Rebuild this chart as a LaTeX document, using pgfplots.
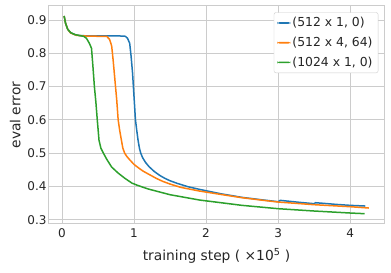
\documentclass[border=0pt]{standalone}
\usepackage{pgfplots}
\pgfplotsset{compat=1.18}
\usepackage{fontspec}
\setmainfont{DejaVu Sans}
\definecolor{tabblue}{HTML}{1F77B4}
\definecolor{taborange}{HTML}{FF7F0E}
\definecolor{tabgreen}{HTML}{2CA02C}
\definecolor{gridc}{HTML}{CCCCCC}
\definecolor{txt}{HTML}{262626}
\begin{document}
\begin{tikzpicture}
\path[use as bounding box] (-49pt,-49pt) rectangle (342pt,224pt);
\begin{axis}[
  at={(0pt,0pt)}, anchor=south west,
  scale only axis, width=335pt, height=218pt,
  xmin=-0.18, xmax=4.47, ymin=0.287, ymax=0.942,
  xtick={0,1,2,3,4}, ytick={0.3,0.4,0.5,0.6,0.7,0.8,0.9},
  yticklabel style={/pgf/number format/fixed, /pgf/number format/fixed zerofill,
    /pgf/number format/precision=1, xshift=1pt},
  /pgf/number format/assume math mode=true,
  grid=major, major grid style={gridc, line width=0.8pt},
  axis line style={gridc, line width=1pt},
  tick style={draw=none},
  tick label style={font=\fontsize{12}{14}\selectfont, text=txt},
  xticklabel style={yshift=-1pt},
  xlabel={training step ( ×10\textsuperscript{5} )},
  ylabel={eval error},
  label style={font=\fontsize{13.8}{16}\selectfont, text=txt},
  xlabel style={yshift=-4pt},
  ylabel style={yshift=0pt},
  legend style={at={(0.983,0.971)}, anchor=north east, draw=gridc, rounded corners=2pt,
    font=\fontsize{12.4}{14}\selectfont, text=txt, row sep=4.8pt, inner xsep=3.5pt, inner ysep=3pt},
  legend cell align=left,
  legend image code/.code={\fill[#1, draw=none] (0pt,-0.85pt) rectangle (13pt,0.85pt);},
  every axis plot/.append style={line width=1.5pt},
]
\addplot[tabblue] coordinates {
(0.03,0.912) (0.05,0.89) (0.08,0.872) (0.12,0.862) (0.18,0.856) (0.25,0.853) (0.4,0.852)
(0.6,0.852) (0.8,0.852) (0.88,0.851) (0.91,0.845) (0.94,0.83) (0.96,0.79) (0.98,0.74)
(1.0,0.67) (1.02,0.6) (1.04,0.565) (1.056,0.539) (1.075,0.515) (1.093,0.5) (1.12,0.486)
(1.16,0.472) (1.21,0.459) (1.28,0.445) (1.357,0.433) (1.43,0.424) (1.5,0.417) (1.6,0.409)
(1.75,0.399) (1.91,0.391) (2.2,0.378) (2.5,0.367) (2.8,0.359) (3.0,0.354)
(3.03,0.358) (3.3,0.352) (3.5,0.348) (3.52,0.351) (3.8,0.346) (4.0,0.343) (4.21,0.341)
};
\addlegendentry{(512 x 1, 0)}
\addplot[taborange] coordinates {
(0.03,0.912) (0.05,0.89) (0.08,0.872) (0.12,0.861) (0.2,0.854) (0.3,0.852) (0.5,0.851)
(0.62,0.851) (0.66,0.842) (0.69,0.822) (0.71,0.78) (0.735,0.72) (0.76,0.66) (0.78,0.6)
(0.80,0.57) (0.825,0.539) (0.845,0.515) (0.87,0.5) (0.9,0.49) (0.94,0.48) (1.0,0.466)
(1.06,0.456) (1.125,0.446) (1.2,0.437) (1.31,0.424) (1.4,0.415) (1.5,0.407) (1.65,0.397)
(1.91,0.386) (2.2,0.376) (2.5,0.366) (2.8,0.358) (3.0,0.353)
(3.5,0.345) (4.0,0.339) (4.26,0.335)
};
\addlegendentry{(512 x 4, 64)}
\addplot[tabgreen] coordinates {
(0.03,0.912) (0.05,0.89) (0.08,0.872) (0.12,0.862) (0.18,0.856) (0.25,0.853) (0.3,0.851)
(0.34,0.845) (0.38,0.83) (0.41,0.815) (0.43,0.76) (0.45,0.7) (0.47,0.655) (0.49,0.6)
(0.5,0.575) (0.514,0.539) (0.54,0.515) (0.575,0.5) (0.62,0.482) (0.69,0.458) (0.78,0.44)
(0.875,0.424) (0.97,0.41) (1.05,0.403) (1.2,0.392) (1.5,0.375) (1.91,0.359) (2.5,0.343)
(3.0,0.333) (3.5,0.326) (4.0,0.32) (4.2,0.318)
};
\addlegendentry{(1024 x 1, 0)}
\end{axis}
\end{tikzpicture}
\end{document}
